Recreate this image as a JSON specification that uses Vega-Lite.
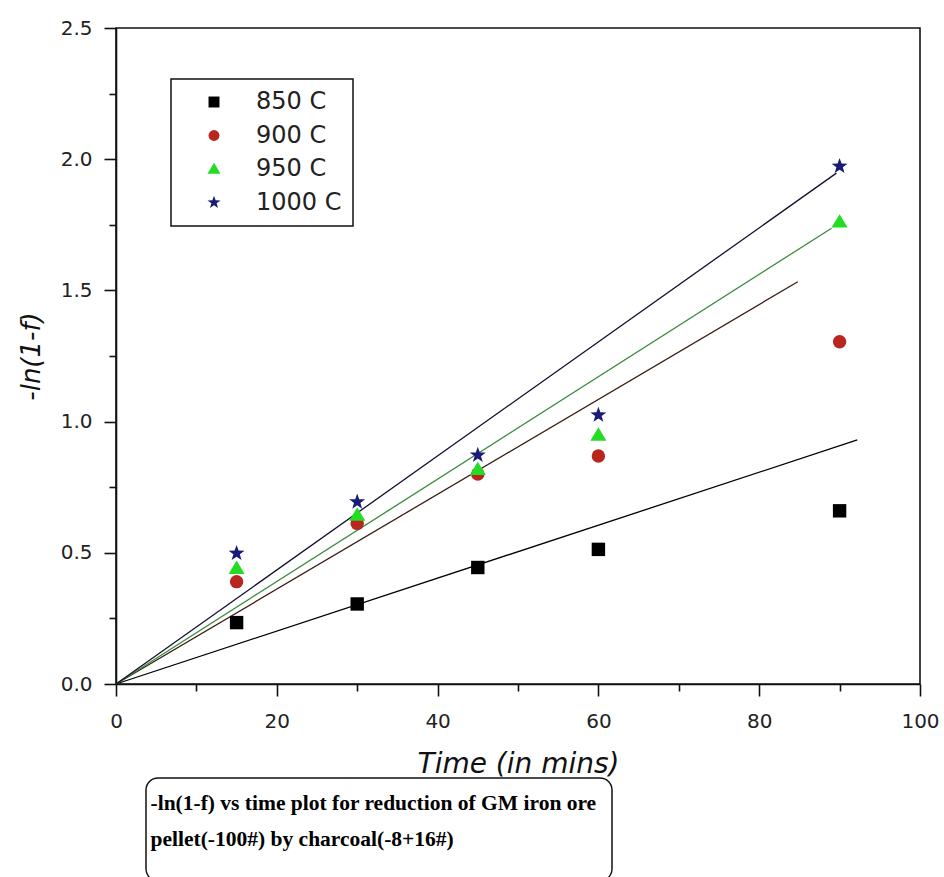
{
  "$schema": "https://vega.github.io/schema/vega-lite/v6.json",
  "autosize": {"type": "none"},
  "width": 804,
  "height": 656,
  "padding": {"left": 116, "top": 28, "right": 24, "bottom": 193},
  "background": "white",
  "config": {
    "font": "DejaVu Sans",
    "view": {"stroke": "#111111", "strokeWidth": 1.6},
    "legend": {"strokeWidth": 1.5},
    "axis": {
      "domainColor": "#111111", "domainWidth": 1.6,
      "tickColor": "#111111", "tickWidth": 1.6,
      "labelColor": "#222222", "labelFont": "DejaVu Sans", "labelFontSize": 20,
      "titleColor": "#111111", "titleFont": "DejaVu Sans", "titleFontStyle": "italic", "titleFontWeight": "normal",
      "grid": false
    }
  },
  "datasets": {
    "pts": [
      {"series": "850 C", "time": 15, "value": 0.234},
      {"series": "850 C", "time": 30, "value": 0.305},
      {"series": "850 C", "time": 45, "value": 0.444},
      {"series": "850 C", "time": 60, "value": 0.513},
      {"series": "850 C", "time": 90, "value": 0.660},
      {"series": "900 C", "time": 15, "value": 0.390},
      {"series": "900 C", "time": 30, "value": 0.612},
      {"series": "900 C", "time": 45, "value": 0.800},
      {"series": "900 C", "time": 60, "value": 0.869},
      {"series": "900 C", "time": 90, "value": 1.304},
      {"series": "950 C", "time": 15, "value": 0.441},
      {"series": "950 C", "time": 30, "value": 0.644},
      {"series": "950 C", "time": 45, "value": 0.818},
      {"series": "950 C", "time": 60, "value": 0.949},
      {"series": "950 C", "time": 90, "value": 1.761},
      {"series": "1000 C", "time": 15, "value": 0.498},
      {"series": "1000 C", "time": 30, "value": 0.694},
      {"series": "1000 C", "time": 45, "value": 0.872},
      {"series": "1000 C", "time": 60, "value": 1.025},
      {"series": "1000 C", "time": 90, "value": 1.973}
    ],
    "fits": [
      {"curve": "fit 850 C", "time": 0, "fit": 0},
      {"curve": "fit 850 C", "time": 92.2, "fit": 0.930},
      {"curve": "fit 900 C", "time": 0, "fit": 0},
      {"curve": "fit 900 C", "time": 84.8, "fit": 1.533},
      {"curve": "fit 950 C", "time": 0, "fit": 0},
      {"curve": "fit 950 C", "time": 89.0, "fit": 1.737},
      {"curve": "fit 1000 C", "time": 0, "fit": 0},
      {"curve": "fit 1000 C", "time": 89.6, "fit": 1.947}
    ],
    "caption": [
      {"cap": "-ln(1-f) vs time plot for reduction of GM iron ore"},
      {"cap": "pellet(-100#) by charcoal(-8+16#)"}
    ]
  },
  "layer": [
    {
      "data": {"name": "fits"},
      "mark": {"type": "line", "strokeWidth": 1.3},
      "encoding": {
        "x": {
          "field": "time", "type": "quantitative",
          "scale": {"domain": [0, 100], "nice": false, "zero": true},
          "axis": {
            "values": [0, 10, 20, 30, 40, 50, 60, 70, 80, 90, 100],
            "labelExpr": "datum.value % 20 == 0 ? datum.label : ''",
            "labelFlush": false,
            "labelOverlap": false,
            "tickSize": {"condition": {"test": "datum.value % 20 == 0", "value": 12}, "value": 7},
            "labelPadding": 15,
            "title": "Time (in mins)",
            "titleFontSize": 28,
            "titlePadding": 19
          }
        },
        "y": {
          "field": "fit", "type": "quantitative",
          "scale": {"domain": [0, 2.5], "nice": false, "zero": true},
          "axis": {
            "values": [0, 0.25, 0.5, 0.75, 1, 1.25, 1.5, 1.75, 2, 2.25, 2.5],
            "labelExpr": "(datum.value * 2) % 1 == 0 ? format(datum.value, '.1f') : ''",
            "labelOverlap": false,
            "tickSize": {"condition": {"test": "(datum.value * 2) % 1 == 0", "value": 12}, "value": 7},
            "labelPadding": 12,
            "title": "-ln(1-f)",
            "titleFontSize": 26,
            "titlePadding": 16
          }
        },
        "detail": {"field": "curve", "type": "nominal"},
        "stroke": {
          "field": "curve", "type": "nominal",
          "scale": {"domain": ["fit 850 C", "fit 900 C", "fit 950 C", "fit 1000 C"], "range": ["#000000", "#3a1e14", "#3c8a3c", "#101030"]},
          "legend": null
        }
      }
    },
    {
      "data": {"name": "pts"},
      "mark": {"type": "point", "filled": true, "opacity": 1, "size": 180, "strokeWidth": 0},
      "encoding": {
        "x": {"field": "time", "type": "quantitative"},
        "y": {"field": "value", "type": "quantitative"},
        "color": {
          "field": "series", "type": "nominal",
          "scale": {"domain": ["850 C", "900 C", "950 C", "1000 C"], "range": ["#000000", "#b8261e", "#22dd22", "#1a1a78"]},
          "legend": {
            "title": null,
            "orient": "none", "legendX": 55, "legendY": 51,
            "fillColor": "white", "strokeColor": "#111111",
            "padding": 11, "rowPadding": 9.5,
            "symbolSize": 120, "symbolOffset": 20, "labelOffset": 30,
            "labelFont": "DejaVu Sans", "labelFontSize": 24, "labelColor": "#222222"
          }
        },
        "shape": {
          "field": "series", "type": "nominal",
          "scale": {"domain": ["850 C", "900 C", "950 C", "1000 C"], "range": ["square", "circle", "M0,-1.15L1.2,0.85L-1.2,0.85Z", "M0,-1.25L0.294,-0.405L1.189,-0.386L0.476,0.155L0.735,1.011L0,0.5L-0.735,1.011L-0.476,0.155L-1.189,-0.386L-0.294,-0.405Z"]},
          "legend": {
            "title": null,
            "orient": "none", "legendX": 55, "legendY": 51,
            "fillColor": "white", "strokeColor": "#111111",
            "padding": 11, "rowPadding": 9.5,
            "symbolSize": 120, "symbolOffset": 20, "labelOffset": 30,
            "labelFont": "DejaVu Sans", "labelFontSize": 24, "labelColor": "#222222"
          }
        }
      }
    },
    {
      "data": {"name": "caption"},
      "mark": {"type": "point", "opacity": 0},
      "encoding": {
        "strokeDash": {
          "field": "cap", "type": "nominal",
          "scale": {"domain": ["-ln(1-f) vs time plot for reduction of GM iron ore", "pellet(-100#) by charcoal(-8+16#)"]},
          "legend": {
            "title": " ", "titleOrient": "bottom", "titleFontSize": 8, "titlePadding": 8,
            "orient": "none", "legendX": 30, "legendY": 750,
            "fillColor": "white", "strokeColor": "#111111", "cornerRadius": 12,
            "padding": 15, "rowPadding": 13,
            "symbolSize": 1, "symbolOpacity": 0, "symbolStrokeWidth": 0, "symbolOffset": 0, "labelOffset": -32,
            "labelLimit": 800,
            "labelFont": "Liberation Serif", "labelFontWeight": "bold", "labelFontSize": 21.5, "labelColor": "#000000"
          }
        }
      }
    }
  ]
}
